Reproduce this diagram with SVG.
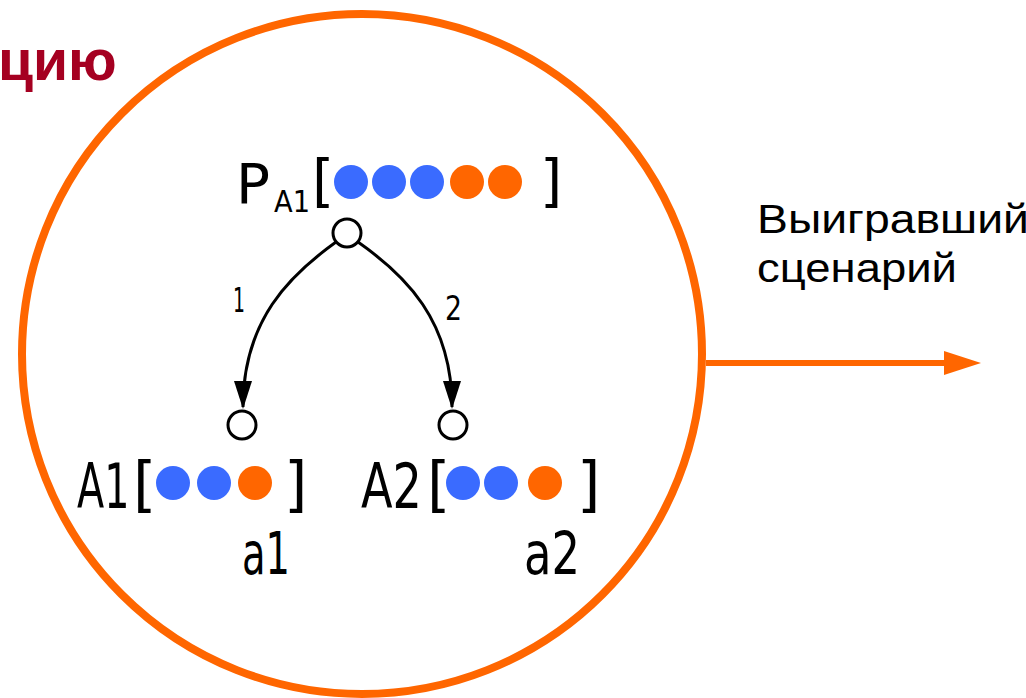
<svg xmlns="http://www.w3.org/2000/svg" width="1026" height="698" viewBox="0 0 1026 698">
  <style>
    .iso { font-family: "DejaVu Sans", "Liberation Sans", sans-serif; fill: #000; }
    .blue { fill: #3A6BFF; }
    .orange { fill: #FF6600; }
    .node { fill: #fff; stroke: #000; stroke-width: 3; }
    .edge { fill: none; stroke: #000; stroke-width: 3; }
    .lbl { font-family: "Liberation Sans", Arial, sans-serif; fill: #000; }
  </style>
  <defs>
    <marker id="ah" viewBox="0 0 28 18" refX="26" refY="9" markerWidth="28" markerHeight="18" markerUnits="userSpaceOnUse" orient="auto">
      <path d="M0,0 L28,9 L0,18 z" fill="#000"/>
    </marker>
  </defs>
  <rect width="1026" height="698" fill="#fff"/>

  <text x="-2" y="80" font-family="Liberation Sans, Arial, sans-serif" font-weight="bold" font-size="57" fill="#A50021">цию</text>

  <g id="scope">
    <circle cx="362" cy="354" r="340" fill="none" stroke="#FF6600" stroke-width="8"/>
  </g>

  <g id="connectors">
    <path class="edge" d="M336,242 C290,275 243,320 243,407" marker-end="url(#ah)"/>
    <path class="edge" d="M358,242 C405,275 452,320 452,407" marker-end="url(#ah)"/>
    <text class="iso" x="233" y="312" font-size="33" textLength="12" lengthAdjust="spacingAndGlyphs">1</text>
    <text class="iso" x="445" y="320" font-size="33" textLength="17" lengthAdjust="spacingAndGlyphs">2</text>
    <line x1="706" y1="363" x2="950" y2="363" stroke="#FF6600" stroke-width="6"/>
    <path d="M944,351 L981,363 L944,375 z" fill="#FF6600"/>
  </g>

  <g id="node-PA1">
    <circle class="node" cx="347" cy="233" r="14"/>
    <text class="iso" x="236" y="203" font-size="56" textLength="34" lengthAdjust="spacingAndGlyphs">P</text>
    <text class="iso" x="274" y="212" font-size="30" textLength="36" lengthAdjust="spacingAndGlyphs">A1</text>
    <text class="iso" x="312" y="200" font-size="57">[</text>
    <circle class="blue" cx="351" cy="182" r="17"/>
    <circle class="blue" cx="389" cy="182" r="17"/>
    <circle class="blue" cx="427" cy="182" r="17"/>
    <circle class="orange" cx="467" cy="182" r="17"/>
    <circle class="orange" cx="505" cy="182" r="17"/>
    <text class="iso" x="540" y="200" font-size="57">]</text>
  </g>

  <g id="node-A1">
    <circle class="node" cx="242" cy="425" r="14"/>
    <text class="iso" transform="translate(77,508) scale(0.64,1)" x="0" y="0" font-size="62">A1</text>
    <text class="iso" x="133" y="505" font-size="60">[</text>
    <circle class="blue" cx="173" cy="483" r="17"/>
    <circle class="blue" cx="214" cy="483" r="17"/>
    <circle class="orange" cx="255" cy="483" r="17"/>
    <text class="iso" x="284" y="505" font-size="60">]</text>
    <text class="iso" x="242" y="574" font-size="59" textLength="48" lengthAdjust="spacingAndGlyphs">a1</text>
  </g>

  <g id="node-A2">
    <circle class="node" cx="453" cy="425" r="14"/>
    <text class="iso" transform="translate(361,508) scale(0.745,1)" x="0" y="0" font-size="62">A2</text>
    <text class="iso" x="427" y="505" font-size="60">[</text>
    <circle class="blue" cx="463" cy="483" r="17"/>
    <circle class="blue" cx="501" cy="483" r="17"/>
    <circle class="orange" cx="545" cy="483" r="17"/>
    <text class="iso" x="577" y="505" font-size="60">]</text>
    <text class="iso" x="524" y="574" font-size="59" textLength="56" lengthAdjust="spacingAndGlyphs">a2</text>
  </g>

  <g id="label-winner">
    <text class="lbl" x="757" y="233" font-size="41" textLength="272" lengthAdjust="spacingAndGlyphs">Выигравший</text>
    <text class="lbl" x="757" y="282" font-size="41" textLength="200" lengthAdjust="spacingAndGlyphs">сценарий</text>
  </g>
</svg>
